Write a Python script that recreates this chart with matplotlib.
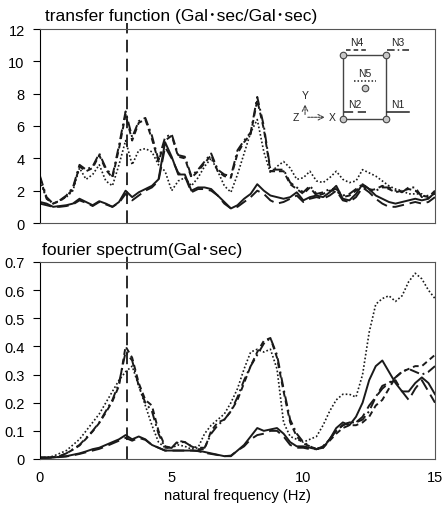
import numpy as np
import matplotlib
matplotlib.use("Agg")
import matplotlib.pyplot as plt
from matplotlib.ticker import FuncFormatter

plt.rcParams['font.family'] = ['Liberation Sans', 'Noto Sans CJK JP', 'DejaVu Sans']

# frequency axis (Hz), 0.25 Hz steps
freq = np.linspace(0, 15, 61)

# transfer function (Gal·sec/Gal·sec)
tf_n1 = [1.3, 1.2, 1.0, 1.05, 1.1, 1.2, 1.5, 1.3, 1.1, 1.35,
         1.2, 1.0, 1.3, 2.0, 1.6, 1.9, 2.1, 2.3, 2.7, 5.0,
         4.1, 3.0, 3.0, 2.0, 2.2, 2.2, 2.1, 1.7, 1.3, 0.9,
         1.1, 1.5, 1.8, 2.4, 2.0, 1.7, 1.6, 1.5, 1.6, 1.9,
         1.4, 1.6, 1.7, 1.6, 1.9, 2.3, 1.5, 1.4, 1.8, 2.4,
         2.1, 1.7, 1.5, 1.3, 1.2, 1.3, 1.4, 1.5, 1.4, 1.5, 1.9]
tf_n2 = [1.2, 1.1, 1.0, 1.0, 1.05, 1.15, 1.4, 1.25, 1.05, 1.3,
         1.15, 1.0, 1.25, 1.8, 1.4, 1.7, 2.0, 2.2, 2.6, 4.7,
         4.0, 3.1, 2.9, 1.9, 2.1, 2.1, 2.0, 1.7, 1.2, 0.9,
         1.0, 1.3, 1.6, 2.0, 1.8, 1.4, 1.2, 1.3, 1.5, 1.7,
         1.3, 1.5, 1.6, 1.5, 1.7, 2.0, 1.4, 1.3, 1.6, 2.2,
         1.9, 1.5, 1.2, 1.0, 1.0, 1.1, 1.2, 1.3, 1.2, 1.3, 1.6]
tf_n3 = [2.9, 1.6, 1.2, 1.4, 1.7, 2.2, 3.6, 3.3, 3.5, 4.3,
         3.4, 2.9, 4.8, 6.9, 5.3, 6.3, 6.5, 5.4, 3.9, 5.3,
         5.5, 4.2, 4.1, 2.9, 3.3, 3.8, 4.3, 3.3, 3.0, 2.9,
         4.5, 5.1, 5.6, 7.8, 6.0, 3.3, 3.3, 3.3, 2.5, 2.2,
         1.9, 2.3, 1.8, 1.9, 2.1, 2.1, 1.7, 1.8, 2.1, 2.4,
         2.1, 2.0, 2.2, 2.2, 2.0, 1.9, 2.2, 2.2, 1.6, 1.7, 1.8]
tf_n4 = [2.8, 1.5, 1.2, 1.35, 1.65, 2.1, 3.5, 3.2, 3.4, 4.2,
         3.3, 2.8, 4.6, 6.7, 5.1, 6.2, 6.4, 5.2, 3.8, 5.1,
         5.4, 4.1, 4.0, 2.8, 3.2, 3.7, 4.2, 3.2, 2.9, 2.8,
         4.3, 5.0, 5.5, 7.6, 5.8, 3.2, 3.2, 3.2, 2.4, 2.1,
         1.8, 2.2, 1.7, 1.8, 2.0, 2.0, 1.6, 1.7, 2.0, 2.3,
         2.0, 2.1, 2.3, 2.1, 1.9, 2.0, 2.1, 2.0, 1.7, 1.6, 2.0]
tf_n5 = [2.6, 1.5, 1.2, 1.4, 1.6, 2.0, 3.4, 2.7, 3.0, 3.6,
         2.6, 2.3, 3.6, 5.1, 3.6, 4.5, 4.6, 4.4, 3.6, 3.2,
         2.0, 2.6, 2.8, 2.3, 2.8, 3.5, 4.0, 3.2, 2.3, 1.9,
         3.0, 4.3, 5.6, 6.4, 4.4, 3.1, 3.5, 3.8, 3.4, 2.7,
         2.8, 3.2, 2.6, 2.5, 2.8, 3.2, 2.7, 2.5, 2.6, 3.3,
         3.1, 2.9, 2.6, 2.3, 2.1, 2.0, 1.8, 1.8, 1.8, 1.5, 1.9]

# fourier spectrum (Gal·sec)
fs_n1 = [0.005, 0.005, 0.005, 0.008, 0.01, 0.015, 0.02, 0.027, 0.035, 0.04,
         0.05, 0.06, 0.07, 0.085, 0.07, 0.08, 0.07, 0.05, 0.04, 0.03,
         0.03, 0.03, 0.03, 0.03, 0.03, 0.025, 0.02, 0.015, 0.01, 0.01,
         0.03, 0.05, 0.08, 0.11, 0.10, 0.105, 0.11, 0.09, 0.06, 0.045,
         0.045, 0.04, 0.035, 0.04, 0.07, 0.11, 0.13, 0.12, 0.15, 0.20,
         0.28, 0.33, 0.35, 0.31, 0.27, 0.24, 0.24, 0.27, 0.29, 0.27, 0.23]
fs_n2 = [0.004, 0.004, 0.005, 0.007, 0.009, 0.013, 0.018, 0.024, 0.03, 0.036,
         0.045, 0.055, 0.065, 0.075, 0.065, 0.075, 0.068, 0.05, 0.04, 0.03,
         0.03, 0.03, 0.03, 0.03, 0.028, 0.022, 0.018, 0.014, 0.01, 0.012,
         0.03, 0.045, 0.07, 0.085, 0.09, 0.10, 0.10, 0.08, 0.05, 0.04,
         0.04, 0.035, 0.035, 0.045, 0.07, 0.10, 0.12, 0.13, 0.13, 0.15,
         0.19, 0.22, 0.25, 0.27, 0.28, 0.24, 0.21, 0.25, 0.28, 0.24, 0.20]
fs_n3 = [0.005, 0.005, 0.007, 0.01, 0.02, 0.035, 0.05, 0.075, 0.10, 0.13,
         0.17, 0.21, 0.27, 0.38, 0.35, 0.26, 0.20, 0.17, 0.09, 0.04,
         0.04, 0.06, 0.06, 0.045, 0.04, 0.04, 0.09, 0.12, 0.14, 0.17,
         0.22, 0.28, 0.33, 0.37, 0.41, 0.43, 0.37, 0.25, 0.14, 0.09,
         0.06, 0.045, 0.035, 0.045, 0.07, 0.10, 0.12, 0.13, 0.13, 0.14,
         0.17, 0.22, 0.26, 0.27, 0.29, 0.31, 0.32, 0.31, 0.30, 0.31, 0.33]
fs_n4 = [0.005, 0.005, 0.007, 0.01, 0.02, 0.033, 0.048, 0.072, 0.098, 0.128,
         0.165, 0.205, 0.26, 0.40, 0.36, 0.27, 0.21, 0.19, 0.10, 0.045,
         0.04, 0.065, 0.06, 0.045, 0.035, 0.035, 0.10, 0.13, 0.14, 0.17,
         0.21, 0.27, 0.33, 0.38, 0.42, 0.43, 0.36, 0.24, 0.13, 0.08,
         0.055, 0.045, 0.035, 0.04, 0.065, 0.09, 0.11, 0.12, 0.12, 0.13,
         0.15, 0.19, 0.21, 0.25, 0.29, 0.31, 0.32, 0.33, 0.33, 0.35, 0.37]
fs_n5 = [0.005, 0.005, 0.01, 0.02, 0.03, 0.05, 0.07, 0.10, 0.13, 0.16,
         0.20, 0.24, 0.28, 0.31, 0.33, 0.26, 0.19, 0.12, 0.06, 0.04,
         0.04, 0.05, 0.045, 0.035, 0.04, 0.09, 0.12, 0.14, 0.16, 0.20,
         0.25, 0.32, 0.38, 0.39, 0.38, 0.39, 0.32, 0.13, 0.08, 0.07,
         0.06, 0.07, 0.08, 0.12, 0.17, 0.21, 0.23, 0.23, 0.22, 0.30,
         0.45, 0.55, 0.57, 0.58, 0.56, 0.58, 0.63, 0.66, 0.64, 0.60, 0.57]

peak_freq = 3.3  # dominant frequency marker

styles = {
    'N1': dict(linestyle='-', lw=1.4),
    'N2': dict(linestyle=(0, (6, 3)), lw=1.4),
    'N3': dict(linestyle=(0, (5, 2, 1, 2)), lw=1.4),
    'N4': dict(linestyle=(0, (3, 2)), lw=1.4),
    'N5': dict(linestyle=(0, (1, 1.3)), lw=1.2),
}

fig = plt.figure(figsize=(4.43, 5.10), dpi=100)
ax1 = fig.add_axes([40 / 443, 1 - 224 / 510, 395 / 443, 194 / 510])
ax2 = fig.add_axes([40 / 443, 1 - 460 / 510, 395 / 443, 197 / 510])

for ax, series in [(ax1, [tf_n1, tf_n2, tf_n3, tf_n4, tf_n5]),
                   (ax2, [fs_n1, fs_n2, fs_n3, fs_n4, fs_n5])]:
    for name, vals in zip(['N5', 'N4', 'N3', 'N2', 'N1'], series[::-1]):
        ax.plot(freq, vals, color='#1a1a1a', **styles[name])
    ax.set_xlim(0, 15)
    for side in ['top', 'right', 'bottom']:
        ax.spines[side].set_color('#555555')
    ax.spines['left'].set_color('black')
    ax.tick_params(axis='y', direction='out', length=5, width=0.8, pad=6,
                   labelsize=10.5)
    ax.tick_params(axis='x', length=0, pad=8, labelsize=10.5)

# vertical marker line, poking slightly above the frame
ax1.plot([peak_freq, peak_freq], [0, 12.35], color='#1a1a1a', lw=1.3,
         linestyle=(0, (7, 3.5)), clip_on=False)
ax2.plot([peak_freq, peak_freq], [0, 0.72], color='#1a1a1a', lw=1.3,
         linestyle=(0, (7, 3.5)), clip_on=False)

ax1.set_ylim(0, 12)
ax1.set_yticks(range(0, 13, 2))
ax1.set_xticks([])

ax2.set_ylim(0, 0.7)
ax2.set_yticks(np.arange(0, 0.71, 0.1))
ax2.yaxis.set_major_formatter(FuncFormatter(lambda v, p: '0' if v == 0 else f'{v:.1f}'))
ax2.set_xticks([0, 5, 10, 15])

fig.text(45 / 443, 1 - 21 / 510, 'transfer function (Gal･sec/Gal･sec)',
         fontsize=12.5, va='baseline', ha='left')
fig.text(42 / 443, 1 - 255 / 510, 'fourier spectrum(Gal･sec)',
         fontsize=12.5, va='baseline', ha='left')
fig.text(237 / 443, 1 - 500 / 510, 'natural frequency (Hz)',
         fontsize=10.6, va='baseline', ha='center')

# node layout sketch inside the transfer function panel
tr = ax1.transAxes
x0, x1, y0, y1 = 0.766, 0.875, 0.536, 0.866
ax1.plot([x0, x1, x1, x0, x0], [y0, y0, y1, y1, y0], transform=tr,
         color='#444444', lw=1.0)
ax1.scatter([x0, x1, x1, x0, 0.823], [y0, y0, y1, y1, 0.694], transform=tr,
            s=22, facecolor='#c8c8c8', edgecolor='#444444', linewidth=0.8,
            zorder=5)
labels = [('N4', 0.802, 0.915), ('N3', 0.906, 0.915), ('N5', 0.823, 0.758),
          ('N2', 0.797, 0.596), ('N1', 0.906, 0.596)]
for name, lx, ly in labels:
    ax1.text(lx, ly, name, transform=tr, fontsize=7.5, ha='center',
             va='baseline', color='#222222')
    ax1.plot([lx - 0.028, lx + 0.028], [ly - 0.025, ly - 0.025],
             transform=tr, color='#222222', lw=1.1,
             linestyle=styles[name]['linestyle'])

# coordinate axes symbol
ax1.annotate('', xy=(0.671, 0.625), xytext=(0.671, 0.545), xycoords=tr,
             arrowprops=dict(arrowstyle='->', color='#444444', lw=0.8,
                             linestyle=(0, (2, 1))))
ax1.annotate('', xy=(0.728, 0.545), xytext=(0.671, 0.545), xycoords=tr,
             arrowprops=dict(arrowstyle='->', color='#444444', lw=0.8,
                             linestyle=(0, (2, 1))))
ax1.text(0.671, 0.635, 'Y', transform=tr, fontsize=7.5, ha='center', va='bottom',
         color='#222222')
ax1.text(0.655, 0.545, 'Z', transform=tr, fontsize=7.5, ha='right',
         va='center', color='#222222')
ax1.text(0.732, 0.545, 'X', transform=tr, fontsize=7.5, ha='left',
         va='center', color='#222222')

fig.savefig('out.png', dpi=100)
